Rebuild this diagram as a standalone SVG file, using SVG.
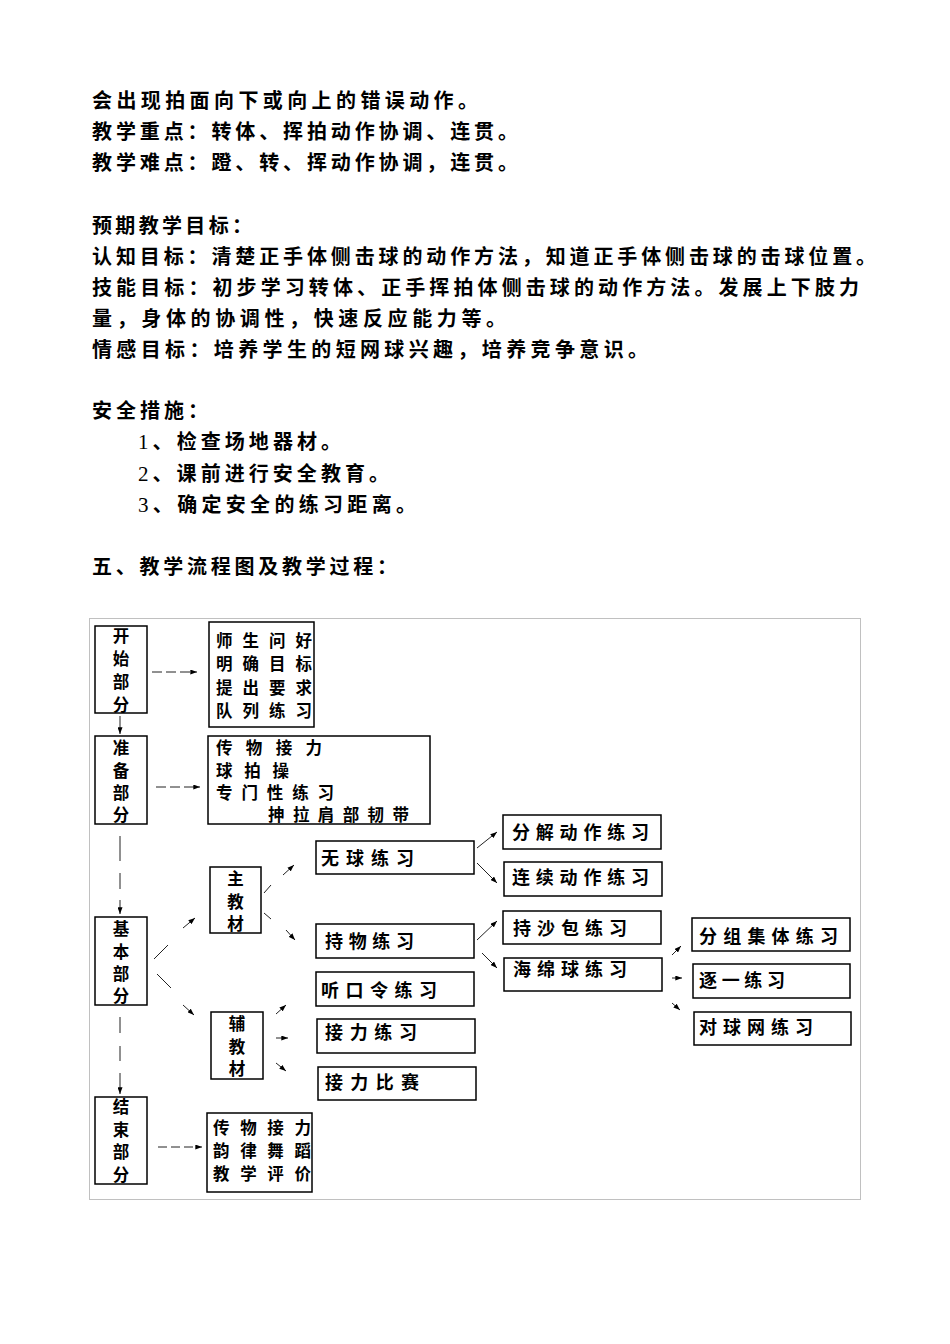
<svg xmlns="http://www.w3.org/2000/svg" width="950" height="1344" viewBox="0 0 950 1344">
<style>
.t{font-family:"Noto Sans CJK SC","Noto Sans",sans-serif;font-size:20px;font-weight:bold;fill:#000}
.f{font-family:"Noto Sans CJK SC","Noto Sans",sans-serif;font-size:18px;font-weight:bold;fill:#000}
.m{font-family:"Noto Sans CJK SC","Noto Sans",sans-serif;font-size:16.5px;font-weight:bold;fill:#000}
.v{font-family:"Noto Sans CJK SC","Noto Sans",sans-serif;font-size:16.5px;font-weight:bold;fill:#000;text-anchor:middle}
.num{font-family:"Liberation Serif",serif;font-weight:normal;font-size:21px}
.box{fill:#fff;stroke:#000;stroke-width:1.5}
.c{fill:none;stroke:#222;stroke-width:1}
</style>
<defs>
<marker id="ah" viewBox="0 0 8 6" refX="8" refY="3" markerWidth="7" markerHeight="5" orient="auto" markerUnits="userSpaceOnUse"><path d="M0,0 L8,3 L0,6 z" fill="#000"/></marker>
</defs>
<rect width="950" height="1344" fill="#fff"/>
<g id="text">
<text class="t" x="92" y="108" textLength="386" lengthAdjust="spacing">会出现拍面向下或向上的错误动作。</text>
<text class="t" x="92" y="139" textLength="426" lengthAdjust="spacing">教学重点：转体、挥拍动作协调、连贯。</text>
<text class="t" x="92" y="170" textLength="426" lengthAdjust="spacing">教学难点：蹬、转、挥动作协调，连贯。</text>
<text class="t" x="92" y="233" textLength="160" lengthAdjust="spacing">预期教学目标：</text>
<text class="t" x="92" y="264" textLength="784" lengthAdjust="spacing">认知目标：清楚正手体侧击球的动作方法，知道正手体侧击球的击球位置。</text>
<text class="t" x="92" y="295" textLength="767" lengthAdjust="spacing">技能目标：初步学习转体、正手挥拍体侧击球的动作方法。发展上下肢力</text>
<text class="t" x="92" y="326" textLength="414" lengthAdjust="spacing">量，身体的协调性，快速反应能力等。</text>
<text class="t" x="92" y="357" textLength="556" lengthAdjust="spacing">情感目标：培养学生的短网球兴趣，培养竞争意识。</text>
<text class="t" x="92" y="418" textLength="116" lengthAdjust="spacing">安全措施：</text>
<text class="t" x="138" y="449" textLength="203" lengthAdjust="spacing"><tspan class="num">1</tspan>、检查场地器材。</text>
<text class="t" x="138" y="481" textLength="251" lengthAdjust="spacing"><tspan class="num">2</tspan>、课前进行安全教育。</text>
<text class="t" x="138" y="512" textLength="278" lengthAdjust="spacing"><tspan class="num">3</tspan>、确定安全的练习距离。</text>
<text class="t" x="92" y="574" textLength="305" lengthAdjust="spacing">五、教学流程图及教学过程：</text>
</g>
<rect id="frame" x="89.5" y="618.5" width="771" height="581" fill="none" stroke="#c0c0c0" stroke-width="1"/>
<g id="connectors">
<path class="c" d="M152,672 H197" stroke-dasharray="10,4" stroke-width="1.3" marker-end="url(#ah)"/>
<path class="c" d="M120,716 V734" marker-end="url(#ah)"/>
<path class="c" d="M156,787 H200" stroke-dasharray="10,4" stroke-width="1.3" marker-end="url(#ah)"/>
<path class="c" d="M120,836 V861 M120,873 V889 M120,900 V914" marker-end="url(#ah)"/>
<path class="c" d="M120,1017 V1033 M120,1046 V1061 M120,1073 V1094" marker-end="url(#ah)"/>
<path class="c" d="M158,1147 H202" stroke-dasharray="9,4" stroke-width="2.5" marker-end="url(#ah)"/>
<path class="c" d="M154,959 L168,945 M183,928 L195,918" marker-end="url(#ah)"/>
<path class="c" d="M157,974 L171,988 M183,1005 L194,1015" marker-end="url(#ah)"/>
<path class="c" d="M264,893 L271,885 M283,875 L294,865" marker-end="url(#ah)"/>
<path class="c" d="M264,913 L271,919 M286,930 L295,940" marker-end="url(#ah)"/>
<path class="c" d="M276,1014 L286,1005" marker-end="url(#ah)"/>
<path class="c" d="M276,1038 L288,1038" marker-end="url(#ah)"/>
<path class="c" d="M276,1063 L286,1071" marker-end="url(#ah)"/>
<path class="c" d="M477,848 L497,832" marker-end="url(#ah)"/>
<path class="c" d="M477,863 L497,883" marker-end="url(#ah)"/>
<path class="c" d="M477,940 L497,921" marker-end="url(#ah)"/>
<path class="c" d="M482,953 L497,968" marker-end="url(#ah)"/>
<path class="c" d="M672,955 L681,946" marker-end="url(#ah)"/>
<path class="c" d="M672,978 L682,978" marker-end="url(#ah)"/>
<path class="c" d="M672,1003 L680,1010" marker-end="url(#ah)"/>
</g>
<g id="n_kaishi"><rect class="box" x="95" y="626" width="52" height="87"/>
<text class="v"><tspan x="121" y="642">开</tspan><tspan x="121" y="665">始</tspan><tspan x="121" y="688">部</tspan><tspan x="121" y="711">分</tspan></text></g>
<g id="n_kaishi_items"><rect class="box" x="209" y="622" width="105" height="105"/>
<text class="m"><tspan x="216" y="647" textLength="96" lengthAdjust="spacing">师生问好</tspan><tspan x="216" y="670" textLength="96" lengthAdjust="spacing">明确目标</tspan><tspan x="216" y="694" textLength="96" lengthAdjust="spacing">提出要求</tspan><tspan x="216" y="717" textLength="96" lengthAdjust="spacing">队列练习</tspan></text></g>
<g id="n_zhunbei"><rect class="box" x="95" y="736" width="52" height="88"/>
<text class="v"><tspan x="121" y="754">准</tspan><tspan x="121" y="776.5">备</tspan><tspan x="121" y="799">部</tspan><tspan x="121" y="821">分</tspan></text></g>
<g id="n_zhunbei_items"><rect class="box" x="208" y="736" width="222" height="88"/>
<text class="m"><tspan x="216" y="754" textLength="106" lengthAdjust="spacing">传物接力</tspan><tspan x="216" y="776.5" textLength="73" lengthAdjust="spacing">球拍操</tspan><tspan x="216" y="799" textLength="118" lengthAdjust="spacing">专门性练习</tspan><tspan x="268" y="821" textLength="141" lengthAdjust="spacing">抻拉肩部韧带</tspan></text></g>
<g id="n_jiben"><rect class="box" x="95" y="917" width="52" height="88"/>
<text class="v"><tspan x="121" y="935">基</tspan><tspan x="121" y="957.5">本</tspan><tspan x="121" y="980">部</tspan><tspan x="121" y="1002">分</tspan></text></g>
<g id="n_zhu"><rect class="box" x="210" y="867" width="51" height="66"/>
<text class="v"><tspan x="235.5" y="885">主</tspan><tspan x="235.5" y="907.5">教</tspan><tspan x="235.5" y="930">材</tspan></text></g>
<g id="n_fu"><rect class="box" x="211" y="1012" width="52" height="67"/>
<text class="v"><tspan x="237" y="1030">辅</tspan><tspan x="237" y="1052.5">教</tspan><tspan x="237" y="1075">材</tspan></text></g>
<g id="n_wuqiu"><rect class="box" x="316" y="841" width="158" height="33"/><text class="f" x="321" y="865" textLength="93" lengthAdjust="spacing">无球练习</text></g>
<g id="n_chiwu"><rect class="box" x="316" y="924" width="158" height="34"/><text class="f" x="325" y="948" textLength="89" lengthAdjust="spacing">持物练习</text></g>
<g id="n_tingkou"><rect class="box" x="316" y="972" width="158" height="34"/><text class="f" x="321" y="997" textLength="116" lengthAdjust="spacing">听口令练习</text></g>
<g id="n_jieli"><rect class="box" x="317" y="1019" width="158" height="34"/><text class="f" x="325" y="1039" textLength="92" lengthAdjust="spacing">接力练习</text></g>
<g id="n_jielibisai"><rect class="box" x="318" y="1067" width="158" height="33"/><text class="f" x="325" y="1089" textLength="94" lengthAdjust="spacing">接力比赛</text></g>
<g id="n_fenjie"><rect class="box" x="503" y="815" width="158" height="34"/><text class="f" x="512" y="839" textLength="137" lengthAdjust="spacing">分解动作练习</text></g>
<g id="n_lianxu"><rect class="box" x="504" y="862" width="158" height="34"/><text class="f" x="512" y="884" textLength="137" lengthAdjust="spacing">连续动作练习</text></g>
<g id="n_shabao"><rect class="box" x="503" y="911" width="158" height="33"/><text class="f" x="513" y="935" textLength="114" lengthAdjust="spacing">持沙包练习</text></g>
<g id="n_haimian"><rect class="box" x="504" y="958" width="158" height="33"/><text class="f" x="513" y="976" textLength="114" lengthAdjust="spacing">海绵球练习</text></g>
<g id="n_fenzu"><rect class="box" x="692" y="918" width="158" height="33"/><text class="f" x="699" y="943" textLength="139" lengthAdjust="spacing">分组集体练习</text></g>
<g id="n_zhuyi"><rect class="box" x="693" y="964" width="157" height="34"/><text class="f" x="699" y="987" textLength="86" lengthAdjust="spacing">逐一练习</text></g>
<g id="n_duiqiuwang"><rect class="box" x="694" y="1012" width="157" height="33"/><text class="f" x="699" y="1034" textLength="114" lengthAdjust="spacing">对球网练习</text></g>
<g id="n_jieshu"><rect class="box" x="95" y="1097" width="52" height="87"/>
<text class="v"><tspan x="121" y="1113">结</tspan><tspan x="121" y="1135.5">束</tspan><tspan x="121" y="1158">部</tspan><tspan x="121" y="1180.5">分</tspan></text></g>
<g id="n_jieshu_items"><rect class="box" x="207" y="1113" width="105" height="79"/>
<text class="m"><tspan x="213" y="1134" textLength="98" lengthAdjust="spacing">传物接力</tspan><tspan x="213" y="1157" textLength="98" lengthAdjust="spacing">韵律舞蹈</tspan><tspan x="213" y="1180" textLength="98" lengthAdjust="spacing">教学评价</tspan></text></g>
</svg>
